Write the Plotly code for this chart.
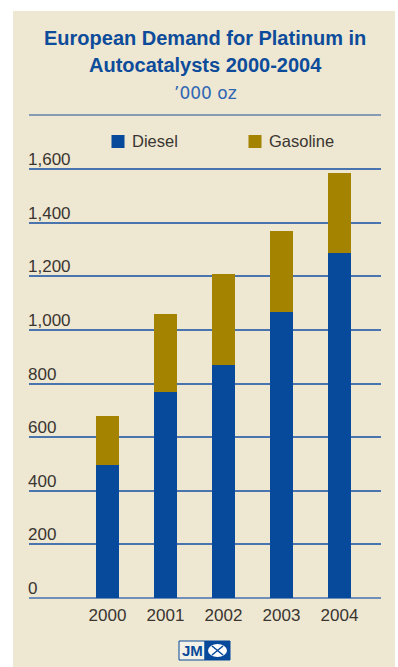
import plotly.graph_objects as go

years = ["2000", "2001", "2002", "2003", "2004"]
diesel = [495, 770, 870, 1065, 1285]
gasoline = [185, 290, 340, 305, 300]
y_ticks = [0, 200, 400, 600, 800, 1000, 1200, 1400, 1600]
y_tick_labels = ["0", "200", "400", "600", "800", "1,000", "1,200", "1,400", "1,600"]
series_names = ["Diesel", "Gasoline"]

W, H = 398, 667
L, R, T, B = 29, 381, 166, 598  # plot area in px
Y_TOP = 1600 * (B - T) / (B - 169)  # so that 1600 lands at 169 px


def px(x):
    return (x - L) / (R - L)


def py(y):
    return (B - y) / (B - T)


BLUE = "#07499A"
GOLD = "#A38300"
BG = "#EEE7D2"
TITLE = "#0D4C9A"
TXT = "#3A3530"
colors = [BLUE, GOLD]

fig = go.Figure()
for name, vals, col in zip(series_names, [diesel, gasoline], colors):
    fig.add_trace(go.Bar(x=years, y=vals, name=name, marker=dict(color=col, line=dict(width=0)),
                         width=0.4, showlegend=False))

shapes = [
    dict(type="rect", xref="paper", yref="paper", x0=px(13), x1=px(395), y0=py(667), y1=py(11),
         fillcolor=BG, line=dict(width=0), layer="below"),
    dict(type="line", xref="paper", yref="paper", x0=0, x1=1, y0=py(115), y1=py(115),
         line=dict(color="#1F4E96", width=1.2)),
    # logo
    dict(type="rect", xref="paper", yref="paper", x0=px(179), x1=px(205), y0=py(660), y1=py(641),
         fillcolor="#F4F1E6", line=dict(color=BLUE, width=1)),
    dict(type="rect", xref="paper", yref="paper", x0=px(205), x1=px(230), y0=py(660), y1=py(641),
         fillcolor=BLUE, line=dict(color=BLUE, width=1)),
    dict(type="circle", xref="paper", yref="paper", x0=px(208), x1=px(227), y0=py(657), y1=py(644),
         fillcolor="white", line=dict(width=0)),
    dict(type="line", xref="paper", yref="paper", x0=px(212), x1=px(223), y0=py(655), y1=py(646),
         line=dict(color=BLUE, width=1.5)),
    dict(type="line", xref="paper", yref="paper", x0=px(212), x1=px(223), y0=py(646), y1=py(655),
         line=dict(color=BLUE, width=1.5)),
]

annotations = [
    dict(text="<b>European Demand for Platinum in</b>", xref="paper", yref="paper", x=px(205), y=py(38),
         xanchor="center", yanchor="middle", showarrow=False,
         font=dict(family="Liberation Sans", size=20, color=TITLE)),
    dict(text="<b>Autocatalysts 2000-2004</b>", xref="paper", yref="paper", x=px(205), y=py(65),
         xanchor="center", yanchor="middle", showarrow=False,
         font=dict(family="Liberation Sans", size=20, color=TITLE)),
    dict(text="\u2019000 oz", xref="paper", yref="paper", x=px(205), y=py(93),
         xanchor="center", yanchor="middle", showarrow=False,
         font=dict(family="DejaVu Sans", size=17, color="#2F66B3")),
    dict(text="<b>JM</b>", xref="paper", yref="paper", x=px(192), y=py(650.5),
         xanchor="center", yanchor="middle", showarrow=False,
         font=dict(family="Liberation Sans", size=15, color=BLUE)),
]

# legend (drawn manually to match the original spacing)
legend_sq_x = [111.5, 248.5]
for name, col, sx in zip(series_names, colors, legend_sq_x):
    shapes.append(dict(type="rect", xref="paper", yref="paper", x0=px(sx), x1=px(sx + 13),
                       y0=py(148), y1=py(135), fillcolor=col, line=dict(width=0)))
    annotations.append(dict(text=name, xref="paper", yref="paper", x=px(sx + 18.5), y=py(141.5),
                            xanchor="left", yanchor="middle", showarrow=False,
                            font=dict(family="Liberation Sans", size=16.5, color=TXT)))

fig.update_layout(
    width=W, height=H,
    margin=dict(l=L, r=W - R, t=T, b=H - B, pad=0),
    paper_bgcolor="white",
    plot_bgcolor="rgba(0,0,0,0)",
    barmode="stack",
    showlegend=False,
    shapes=shapes,
    annotations=annotations,
    xaxis=dict(type="category", range=[-1.353, 4.716], showgrid=False, zeroline=False,
               showline=False, ticks="", tickfont=dict(family="Liberation Sans", size=17, color=TXT),
               ticklabelstandoff=5, fixedrange=True),
    yaxis=dict(range=[0, Y_TOP], tickvals=y_ticks, ticktext=y_tick_labels,
               showgrid=True, gridcolor="#4A74AD", gridwidth=1.5,
               zeroline=True, zerolinecolor="#6F8FB8", zerolinewidth=2,
               showline=False, ticks="", ticklabelposition="inside top", ticklabeloverflow="allow",
               ticklabelstandoff=-4, ticklabelshift=2,
               tickfont=dict(family="Liberation Sans", size=17, color=TXT), fixedrange=True),
)

fig.write_html("out.html", config=dict(displayModeBar=False))
